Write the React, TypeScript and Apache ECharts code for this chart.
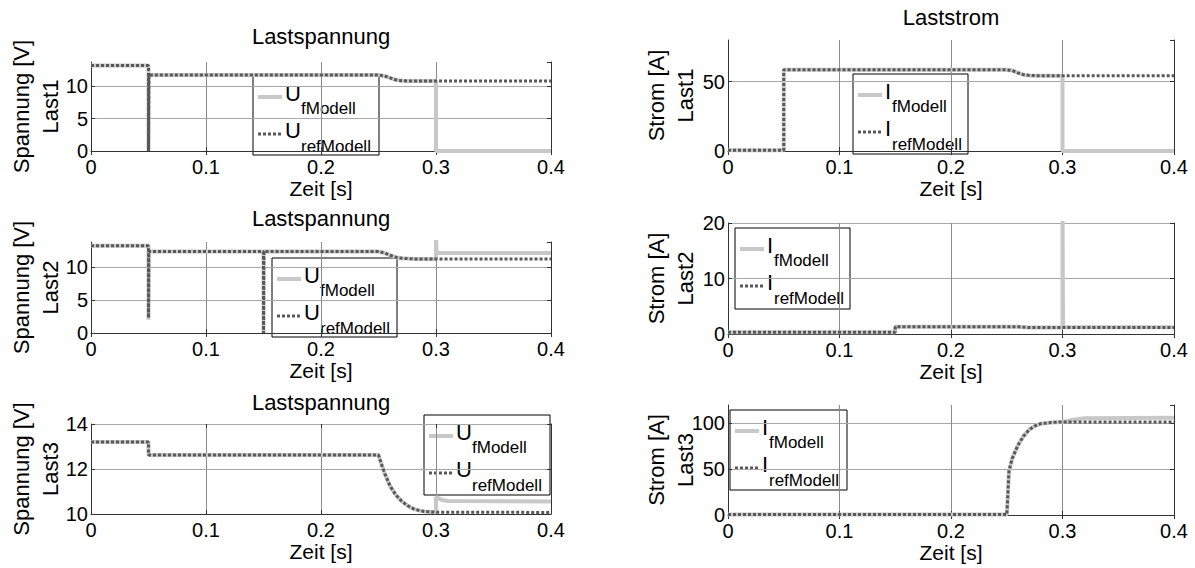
import React, { useEffect, useRef } from "react";
import * as echarts from "echarts";

// ---------- data (time [s], value) ----------
const uF1 = [[0, 13.2], [0.05, 13.2], [0.05, 0], [0.0503, 0], [0.0503, 11.75], [0.25, 11.75], [0.255, 11.6], [0.26, 11.3], [0.265, 11.0], [0.27, 10.85], [0.28, 10.8], [0.3, 10.8], [0.3, 0], [0.4, 0]];
const uRef1 = [[0, 13.2], [0.05, 13.2], [0.05, 0], [0.0503, 0], [0.0503, 11.75], [0.25, 11.75], [0.255, 11.6], [0.26, 11.3], [0.265, 11.0], [0.27, 10.85], [0.28, 10.8], [0.4, 10.8]];

const iF1 = [[0, 0.5], [0.05, 0.5], [0.05, 58.5], [0.25, 58.5], [0.255, 58], [0.26, 56.3], [0.265, 55], [0.27, 54.5], [0.28, 54.2], [0.3, 54.2], [0.3, 0], [0.4, 0]];
const iRef1 = [[0, 0.5], [0.05, 0.5], [0.05, 58.5], [0.25, 58.5], [0.255, 58], [0.26, 56.3], [0.265, 55], [0.27, 54.5], [0.28, 54.2], [0.4, 54.2]];

const uF2 = [[0, 13.2], [0.05, 13.2], [0.05, 2.0], [0.0503, 2.0], [0.0503, 12.3], [0.15, 12.3], [0.15, 0], [0.1503, 0], [0.1503, 12.3], [0.25, 12.3], [0.255, 12.1], [0.26, 11.75], [0.265, 11.45], [0.27, 11.3], [0.28, 11.2], [0.3, 11.2], [0.3, 15], [0.3005, 12.1], [0.4, 12.1]];
const uRef2 = [[0, 13.2], [0.05, 13.2], [0.05, 2.3], [0.0503, 2.3], [0.0503, 12.3], [0.15, 12.3], [0.15, 0], [0.1503, 0], [0.1503, 12.3], [0.25, 12.3], [0.255, 12.1], [0.26, 11.75], [0.265, 11.45], [0.27, 11.3], [0.28, 11.2], [0.4, 11.2]];

const iF2 = [[0, 0.3], [0.15, 0.3], [0.15, 1.3], [0.26, 1.3], [0.27, 1.15], [0.3, 1.15], [0.3, 25], [0.3005, 1.2], [0.4, 1.2]];
const iRef2 = [[0, 0.3], [0.15, 0.3], [0.15, 1.3], [0.26, 1.3], [0.27, 1.15], [0.4, 1.15]];

const uF3 = [[0, 13.2], [0.05, 13.2], [0.05, 12.62], [0.25, 12.62], [0.252, 12.3], [0.255, 11.85], [0.26, 11.25], [0.265, 10.85], [0.27, 10.58], [0.275, 10.38], [0.28, 10.24], [0.285, 10.16], [0.29, 10.11], [0.3, 10.08], [0.3, 10.75], [0.305, 10.62], [0.31, 10.58], [0.4, 10.56]];
const uRef3 = [[0, 13.2], [0.05, 13.2], [0.05, 12.62], [0.25, 12.62], [0.252, 12.3], [0.255, 11.85], [0.26, 11.25], [0.265, 10.85], [0.27, 10.58], [0.275, 10.38], [0.28, 10.24], [0.285, 10.16], [0.29, 10.11], [0.3, 10.08], [0.4, 10.07]];

const iF3 = [[0, 0.5], [0.25, 0.5], [0.2505, 10], [0.252, 48], [0.255, 62], [0.26, 76], [0.265, 86], [0.27, 93], [0.275, 97], [0.28, 99.5], [0.29, 101], [0.3, 101.5], [0.31, 104], [0.32, 105.5], [0.4, 106]];
const iRef3 = [[0, 0.5], [0.25, 0.5], [0.2505, 10], [0.252, 48], [0.255, 62], [0.26, 76], [0.265, 86], [0.27, 93], [0.275, 97], [0.28, 99.5], [0.29, 101], [0.3, 101.5], [0.4, 101.5]];

const timeRange = [0, 0.4];
const timeStep = 0.1;

const panelTitles = ["Lastspannung", "Laststrom", "Lastspannung", "", "Lastspannung", ""];
const yLabels = [
  "Spannung [V]\nLast1", "Strom [A]\nLast1",
  "Spannung [V]\nLast2", "Strom [A]\nLast2",
  "Spannung [V]\nLast3", "Strom [A]\nLast3",
];
const xLabel = "Zeit [s]";
const legendSymbols = ["U", "I", "U", "I", "U", "I"];
const legendSubs = [["fModell", "refModell"]];
const seriesF = [uF1, iF1, uF2, iF2, uF3, iF3];
const seriesRef = [uRef1, iRef1, uRef2, iRef2, uRef3, iRef3];
const yRanges = [[0, 13.75, 5], [0, 80, 50], [0, 13.75, 5], [0, 20, 10], [10, 14, 2], [0, 120, 50]];

// ---------- layout ----------
const FONT = "'Liberation Sans', Arial, Helvetica, sans-serif";
const grids = [
  { left: 91, top: 62, width: 460, height: 89 },
  { left: 728, top: 40, width: 446, height: 111 },
  { left: 91, top: 242, width: 460, height: 91 },
  { left: 728, top: 223, width: 446, height: 111 },
  { left: 91, top: 424, width: 460, height: 90 },
  { left: 728, top: 405, width: 446, height: 110 },
];
const legendBoxes = [
  { x: 253, y: 76, w: 126, h: 79 },
  { x: 853, y: 74, w: 115, h: 80 },
  { x: 272, y: 258, w: 125, h: 79 },
  { x: 735, y: 228, w: 115, h: 81 },
  { x: 424, y: 415, w: 126, h: 80 },
  { x: 730, y: 410, w: 117, h: 80 },
];
const titlePos = [[321, 36], [951, 17], [321, 218], [0, 0], [321, 402], [0, 0]];
const yLabelX = [36, 671];

const LIGHT = "#c8c8c8";
const DARK = "#585858";

function buildOption() {
  const grid: any[] = [];
  const xAxis: any[] = [];
  const yAxis: any[] = [];
  const series: any[] = [];
  const graphic: any[] = [];

  grids.forEach((g, i) => {
    grid.push({ ...g, containLabel: false });
    const [ymin, ymax, yint] = yRanges[i];
    const maxIsTick = Math.abs(((ymax - ymin) / yint) - Math.round((ymax - ymin) / yint)) < 1e-9;
    const axisColor = "#333";
    xAxis.push({
      gridIndex: i, type: "value", min: timeRange[0], max: timeRange[1], interval: timeStep,
      position: "bottom",
      axisLine: { show: true, onZero: false, lineStyle: { color: axisColor, width: 1 } },
      axisTick: { show: true, inside: true, length: 4, lineStyle: { color: axisColor } },
      axisLabel: { color: "#000", fontSize: 20, fontFamily: FONT, margin: 6 },
      splitLine: { show: true, showMinLine: false, showMaxLine: false, lineStyle: { color: "#8c8c8c", width: 1 } },
      name: xLabel, nameLocation: "middle", nameGap: 26,
      nameTextStyle: { color: "#000", fontSize: 21, fontFamily: FONT },
    });
    xAxis.push({
      gridIndex: i, type: "value", min: timeRange[0], max: timeRange[1], interval: timeStep,
      position: "top",
      axisLine: { show: false },
      axisTick: { show: true, inside: true, length: 4, lineStyle: { color: axisColor } },
      axisLabel: { show: false },
      splitLine: { show: false },
    });
    yAxis.push({
      gridIndex: i, type: "value", min: ymin, max: ymax, interval: yint,
      position: "left",
      axisLine: { show: true, onZero: false, lineStyle: { color: axisColor, width: 1 } },
      axisTick: { show: true, inside: true, length: 4, lineStyle: { color: axisColor } },
      axisLabel: { color: "#000", fontSize: 20, fontFamily: FONT, margin: 3, showMaxLabel: maxIsTick },
      splitLine: { show: true, showMinLine: false, showMaxLine: maxIsTick, lineStyle: { color: "#a8a8a8", width: 1 } },
    });
    yAxis.push({
      gridIndex: i, type: "value", min: ymin, max: ymax, interval: yint,
      position: "right",
      axisLine: { show: true, onZero: false, lineStyle: { color: axisColor, width: 1 } },
      axisTick: { show: true, inside: true, length: 4, lineStyle: { color: axisColor } },
      axisLabel: { show: false },
      splitLine: { show: false },
    });

    const sym = legendSymbols[i];
    series.push({
      name: sym + "_fModell", type: "line", xAxisIndex: 2 * i, yAxisIndex: 2 * i,
      data: seriesF[i], showSymbol: false, symbol: "none", clip: true, z: 3,
      lineStyle: { color: LIGHT, width: 4 },
    });
    series.push({
      name: sym + "_refModell", type: "line", xAxisIndex: 2 * i, yAxisIndex: 2 * i,
      data: seriesRef[i], showSymbol: false, symbol: "none", clip: true, z: 4,
      lineStyle: { color: DARK, width: 3, type: [3, 2] },
    });

    // title
    if (panelTitles[i]) {
      graphic.push({
        type: "text", x: titlePos[i][0], y: titlePos[i][1], z: 10,
        style: { text: panelTitles[i], fill: "#000", fontSize: 22, fontFamily: FONT, align: "center", verticalAlign: "middle", textAlign: "center", textVerticalAlign: "middle" },
      });
    }
    // y label (two lines, rotated)
    graphic.push({
      type: "text", x: yLabelX[i % 2], y: g.top + g.height / 2, rotation: Math.PI / 2, z: 10,
      style: { text: yLabels[i], fill: "#000", fontSize: 22, fontFamily: FONT, lineHeight: 29, align: "center", verticalAlign: "middle", textAlign: "center", textVerticalAlign: "middle" },
    });
    // legend
    const b = legendBoxes[i];
    const subs = legendSubs[0];
    const mainW = sym === "U" ? 16 : 7;
    graphic.push({
      type: "group", x: b.x, y: b.y, z: 20,
      children: [
        { type: "rect", shape: { x: 0, y: 0, width: b.w, height: b.h }, style: { fill: "#fff", stroke: "#000", lineWidth: 1 } },
        { type: "line", shape: { x1: 5, y1: 21, x2: 29, y2: 21 }, style: { stroke: LIGHT, lineWidth: 4 } },
        { type: "line", shape: { x1: 5, y1: 58, x2: 29, y2: 58 }, style: { stroke: DARK, lineWidth: 3, lineDash: [3, 2] } },
        { type: "text", x: 32, y: 17, style: { text: sym, fill: "#000", fontSize: 22, fontFamily: FONT, align: "left", verticalAlign: "middle", textAlign: "left", textVerticalAlign: "middle" } },
        { type: "text", x: 32 + mainW, y: 32, style: { text: subs[0], fill: "#000", fontSize: 17, fontFamily: FONT, align: "left", verticalAlign: "middle", textAlign: "left", textVerticalAlign: "middle" } },
        { type: "text", x: 32, y: 54, style: { text: sym, fill: "#000", fontSize: 22, fontFamily: FONT, align: "left", verticalAlign: "middle", textAlign: "left", textVerticalAlign: "middle" } },
        { type: "text", x: 32 + mainW, y: 70, style: { text: subs[1], fill: "#000", fontSize: 17, fontFamily: FONT, align: "left", verticalAlign: "middle", textAlign: "left", textVerticalAlign: "middle" } },
      ],
    });
  });

  return {
    animation: false,
    backgroundColor: "#fff",
    textStyle: { fontFamily: FONT },
    grid, xAxis, yAxis, series, graphic,
  };
}

export default function App() {
  const ref = useRef<HTMLDivElement>(null);
  useEffect(() => {
    if (!ref.current) return;
    const chart = echarts.init(ref.current, undefined, { renderer: "svg" });
    chart.setOption(buildOption() as any);
    return () => chart.dispose();
  }, []);
  return (
    <div
      ref={ref}
      style={{ position: "absolute", left: 0, top: 0, width: 1195, height: 568, background: "#fff" }}
    />
  );
}
